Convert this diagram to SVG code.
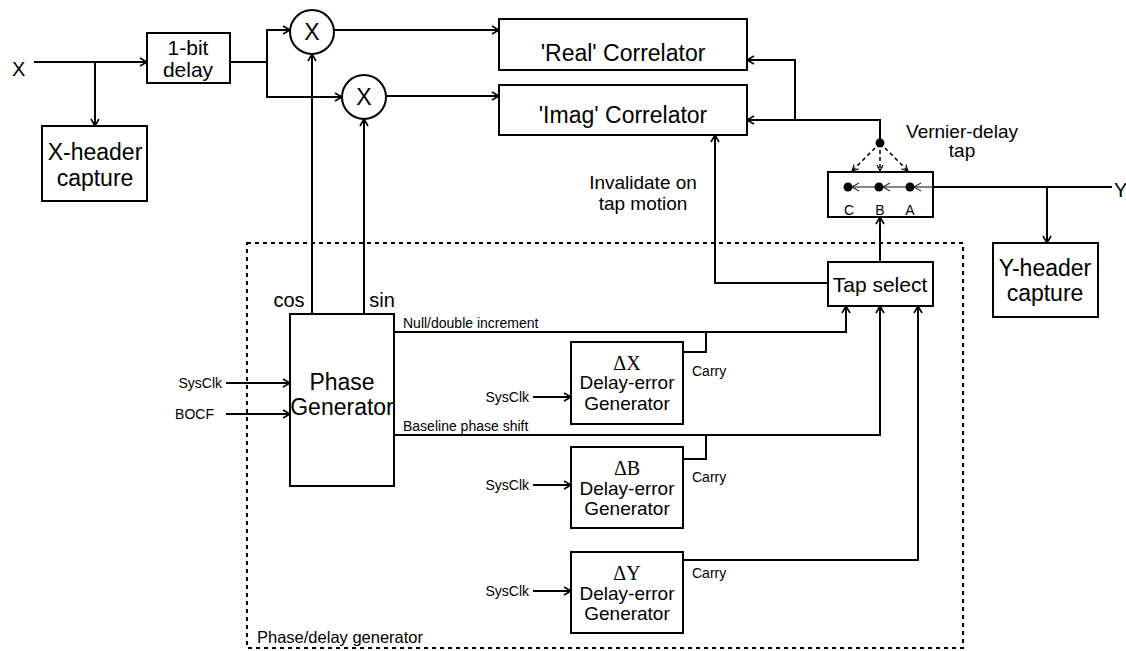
<svg xmlns="http://www.w3.org/2000/svg" width="1126" height="651" viewBox="0 0 1126 651">
<defs>
<marker id="arr" markerWidth="10" markerHeight="10" refX="8" refY="5" orient="auto" markerUnits="userSpaceOnUse">
<path d="M1,1 L8,5 L1,9" fill="none" stroke="#000" stroke-width="1.6"/>
</marker>
<marker id="arrs" markerWidth="8" markerHeight="8" refX="7" refY="4" orient="auto" markerUnits="userSpaceOnUse">
<path d="M1,1 L7,4 L1,7" fill="none" stroke="#000" stroke-width="1.2"/>
</marker>
<marker id="arrg" markerWidth="10" markerHeight="10" refX="8" refY="5" orient="auto" markerUnits="userSpaceOnUse">
<path d="M1,1 L8,5 L1,9" fill="none" stroke="#333" stroke-width="1.2"/>
</marker>
</defs>
<style>
.box{fill:#fff;stroke:#000;stroke-width:2}
.ln{fill:none;stroke:#000;stroke-width:2}
.ar{fill:none;stroke:#000;stroke-width:2;marker-end:url(#arr)}
.dsh{fill:none;stroke:#000;stroke-width:1.5;stroke-dasharray:4,3;marker-end:url(#arrs)}
.t{font-family:"Liberation Sans",Arial,sans-serif;fill:#000}
.big{font-size:23px}
.mid{font-size:20px}
.sm{font-size:14px}
.c{text-anchor:middle}
.e{text-anchor:end}
.serif{font-family:"Liberation Serif","Times New Roman",serif}
</style>
<rect width="1126" height="651" fill="#fff"/>

<g id="connectors">
<line class="ar" x1="34" y1="62" x2="147" y2="62"/>
<line class="ar" x1="95" y1="62" x2="95" y2="126"/>
<polyline class="ln" points="230,62 267,62"/>
<line class="ln" x1="267" y1="30" x2="267" y2="97"/>
<line class="ar" x1="266" y1="30" x2="290" y2="30"/>
<line class="ar" x1="266" y1="97" x2="342" y2="97"/>
<line class="ar" x1="334" y1="30" x2="499" y2="30"/>
<line class="ar" x1="386" y1="96" x2="499" y2="96"/>
<line class="ar" x1="312" y1="314" x2="312" y2="54"/>
<line class="ar" x1="364" y1="314" x2="364" y2="119"/>
<polyline class="ar" points="880,143 880,120 747,120"/>
<polyline class="ar" points="795,120 795,60 747,60"/>
<line class="dsh" x1="880" y1="143" x2="852" y2="171"/>
<line class="dsh" x1="880" y1="143" x2="880" y2="171"/>
<line class="dsh" x1="880" y1="143" x2="908" y2="171"/>
<line class="ln" x1="1112" y1="187" x2="933" y2="187"/>
<line class="ar" x1="1047" y1="187" x2="1047" y2="243"/>
<line class="ar" x1="880" y1="262" x2="880" y2="217"/>
<polyline class="ar" points="828,283 715,283 715,135"/>
<polyline class="ar" points="394,332 846,332 846,306"/>
<polyline class="ar" points="394,435 880,435 880,306"/>
<polyline class="ln" points="683,352 706,352 706,332"/>
<polyline class="ln" points="683,459 706,459 706,435"/>
<polyline class="ar" points="683,560 918,560 918,306"/>
<line class="ar" x1="226" y1="383" x2="290" y2="383"/>
<line class="ar" x1="226" y1="414" x2="290" y2="414"/>
<line class="ar" x1="533" y1="397" x2="571" y2="397"/>
<line class="ar" x1="533" y1="485" x2="571" y2="485"/>
<line class="ar" x1="533" y1="591" x2="571" y2="591"/>
</g>

<g id="phase-delay-generator-region">
<rect x="247" y="243" width="716" height="405" fill="none" stroke="#000" stroke-width="2" stroke-dasharray="4,4"/>
<text class="t" x="257" y="643" font-size="16.5">Phase/delay generator</text>
</g>

<g id="x-label"><text class="t mid" x="12" y="76">X</text></g>
<g id="y-label"><text class="t mid" x="1114" y="197">Y</text></g>

<g id="one-bit-delay">
<rect class="box" x="147" y="33" width="83" height="50"/>
<text class="t c" x="188" y="55" font-size="21">1-bit</text>
<text class="t c" x="188" y="77" font-size="21">delay</text>
</g>

<g id="x-header">
<rect class="box" x="42" y="126" width="105" height="75"/>
<text class="t big c" x="95" y="160">X-header</text>
<text class="t big c" x="95" y="186">capture</text>
</g>

<g id="mult-real">
<circle cx="312" cy="32" r="22" fill="#fff" stroke="#000" stroke-width="2"/>
<text class="t big c" x="312" y="40">X</text>
</g>
<g id="mult-imag">
<circle cx="364" cy="97" r="22" fill="#fff" stroke="#000" stroke-width="2"/>
<text class="t big c" x="364" y="105">X</text>
</g>

<g id="real-correlator">
<rect class="box" x="499" y="19" width="248" height="51"/>
<text class="t big c" x="623" y="61">'Real' Correlator</text>
</g>
<g id="imag-correlator">
<rect class="box" x="499" y="85" width="248" height="50"/>
<text class="t big c" x="623" y="123">'Imag' Correlator</text>
</g>

<g id="invalidate-label">
<text class="t c" x="643" y="189" font-size="19">Invalidate on</text>
<text class="t c" x="643" y="210" font-size="19">tap motion</text>
</g>

<g id="vernier-tap">
<circle cx="880" cy="143" r="4.5" fill="#000"/>
<text class="t c" x="962" y="138" font-size="19">Vernier-delay</text>
<text class="t c" x="962" y="157" font-size="19">tap</text>
<rect class="box" x="828" y="172" width="105" height="45"/>
<line x1="933" y1="187" x2="914" y2="187" stroke="#333" stroke-width="1.2" marker-end="url(#arrg)"/>
<line x1="910" y1="187" x2="883" y2="187" stroke="#333" stroke-width="1.2" marker-end="url(#arrg)"/>
<line x1="879" y1="187" x2="852" y2="187" stroke="#333" stroke-width="1.2" marker-end="url(#arrg)"/>
<circle cx="848" cy="187" r="4.5" fill="#000"/>
<circle cx="879" cy="187" r="4.5" fill="#000"/>
<circle cx="910" cy="187" r="4.5" fill="#000"/>
<text class="t sm c" x="849" y="215">C</text>
<text class="t sm c" x="880" y="215">B</text>
<text class="t sm c" x="910" y="215">A</text>
</g>

<g id="y-header">
<rect class="box" x="993" y="243" width="105" height="74"/>
<text class="t big c" x="1045" y="276">Y-header</text>
<text class="t big c" x="1045" y="301">capture</text>
</g>

<g id="tap-select">
<rect class="box" x="828" y="262" width="105" height="44"/>
<text class="t c" x="880" y="292" font-size="21">Tap select</text>
</g>

<g id="phase-generator">
<rect class="box" x="290" y="314" width="104" height="172"/>
<text class="t big c" x="342" y="390">Phase</text>
<text class="t big c" x="342" y="415">Generator</text>
<text class="t mid c" x="289" y="307">cos</text>
<text class="t mid c" x="382" y="307">sin</text>
<text class="t sm e" x="222" y="388">SysClk</text>
<text class="t sm e" x="214" y="419">BOCF</text>
<text class="t sm" x="403" y="328">Null/double increment</text>
<text class="t sm" x="403" y="431">Baseline phase shift</text>
</g>

<g id="dx-generator">
<rect class="box" x="571" y="342" width="112" height="82"/>
<text class="serif c" x="627" y="370" font-size="20">ΔX</text>
<text class="t c" x="627" y="389" font-size="19">Delay-error</text>
<text class="t c" x="627" y="410" font-size="19">Generator</text>
<text class="t sm e" x="529" y="402">SysClk</text>
<text class="t sm" x="692" y="376">Carry</text>
</g>

<g id="db-generator">
<rect class="box" x="571" y="447" width="112" height="81"/>
<text class="serif c" x="627" y="475" font-size="20">ΔB</text>
<text class="t c" x="627" y="495" font-size="19">Delay-error</text>
<text class="t c" x="627" y="515" font-size="19">Generator</text>
<text class="t sm e" x="529" y="490">SysClk</text>
<text class="t sm" x="692" y="482">Carry</text>
</g>

<g id="dy-generator">
<rect class="box" x="571" y="552" width="112" height="81"/>
<text class="serif c" x="627" y="580" font-size="20">ΔY</text>
<text class="t c" x="627" y="600" font-size="19">Delay-error</text>
<text class="t c" x="627" y="620" font-size="19">Generator</text>
<text class="t sm e" x="529" y="596">SysClk</text>
<text class="t sm" x="692" y="578">Carry</text>
</g>
</svg>
